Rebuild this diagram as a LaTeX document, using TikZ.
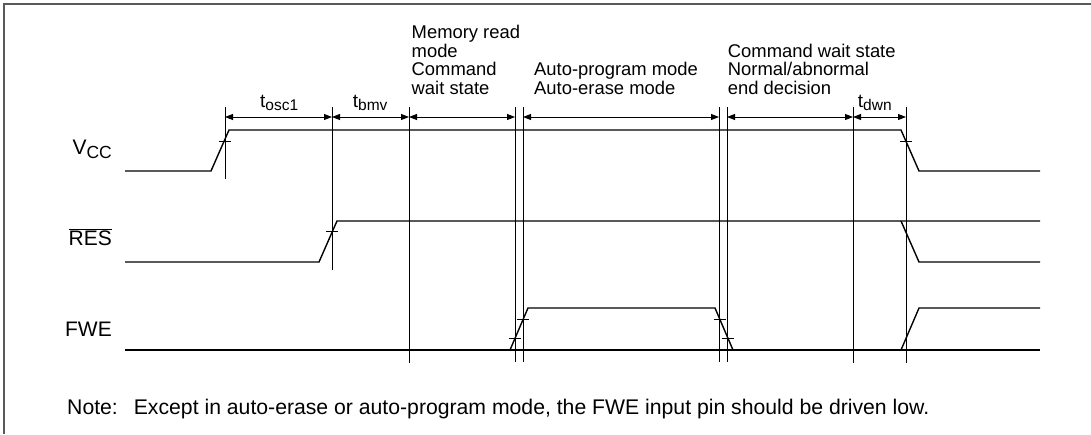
\documentclass[tikz,border=0pt]{standalone}
\usepackage{fontspec}
\setmainfont{Liberation Sans}
\usetikzlibrary{arrows.meta}
\begin{document}
\begin{tikzpicture}[x=1pt,y=-1pt,
  wave/.style={line width=1.4pt, line join=miter},
  vline/.style={line width=0.9pt},
  tick/.style={line width=0.9pt},
  dim/.style={line width=0.9pt, {Triangle[length=8pt,width=6pt]}-{Triangle[length=8pt,width=6pt]}},
  lbl/.style={inner sep=0pt, anchor=base west, font=\fontsize{18.4}{19}\selectfont},
  notelbl/.style={inner sep=0pt, anchor=base west, font=\fontsize{21.2}{22}\selectfont},
  tlbl/.style={inner sep=0pt, anchor=base west, font=\fontsize{19}{20}\selectfont},
  sig/.style={inner sep=0pt, anchor=base east, font=\fontsize{21}{22}\selectfont},
  frame/.style={line width=1.6pt, draw=black!65}]
\useasboundingbox (0,0) rectangle (1091,434);
% frame
\draw[frame] (4,434) -- (4,4) -- (1091,4);

% vertical reference lines
\foreach \n/\x/\b in {v1/225/179, v2/332/270, v3/409/363, v4/515/362, v5/523/362, v6/719/362, v7/727/362, v8/853/363, v9/906/363}{
  \coordinate (\n t) at (\x,107);
  \coordinate (\n b) at (\x,\b);
  \coordinate (\n d) at (\x,117);
  \draw[vline] (\n t) -- (\n b);
}

% dimension arrows
\draw[dim] (v1d) -- (v2d);
\draw[dim] (v2d) -- (v3d);
\draw[dim] (v3d) -- (v4d);
\draw[dim] (v5d) -- (v6d);
\draw[dim] (v7d) -- (v8d);
\draw[dim] (v8d) -- (v9d);

% waveforms
\draw[wave] (125,171) -- (211,171) -- (229,130) -- (901,130) -- (919,171) -- (1040,171);
\draw[wave] (125,262) -- (319,262) -- (337,221) -- (1040,221);
\draw[wave] (901,221) -- (919,262) -- (1040,262);
\draw[wave] (125,350) -- (1040,350);
\draw[wave] (510,350) -- (528,308) -- (715,308) -- (733,350);
\draw[wave] (901,350) -- (919,308) -- (1040,308);

% crossing ticks
\foreach \x/\y in {225/141, 905.8/141, 332/231, 515.2/338, 523.3/319, 719.7/319, 727.8/338}{
  \draw[tick] (\x-6,\y) -- (\x+6,\y);
}

% timing labels
\node[tlbl] (tosc) at (260,107) {t\raisebox{-3pt}{\fontsize{15.5}{16}\selectfont osc1}};
\node[tlbl] (tbmv) at (352.7,107) {t\raisebox{-3pt}{\fontsize{15.5}{16}\selectfont bmv}};
\node[tlbl] (tdwn) at (857.7,107) {t\raisebox{-3pt}{\fontsize{15.5}{16}\selectfont dwn}};

% state labels
\node[lbl] (mr1) at (411.5,38.5) {Memory read};
\node[lbl] (mr2) at (411.5,57.2) {mode};
\node[lbl] (mr3) at (411.5,75.9) {Command};
\node[lbl] (mr4) at (411.5,94.6) {wait state};
\node[lbl] (ap1) at (534,75.9) {Auto-program mode};
\node[lbl] (ap2) at (534,94.6) {Auto-erase mode};
\node[lbl] (cw1) at (727.7,57.2) {Command wait state};
\node[lbl] (cw2) at (727.7,75.9) {Normal/abnormal};
\node[lbl] (cw3) at (727.7,94.6) {end decision};

% signal names
\node[sig] (vcc) at (112,154) {V\raisebox{-4pt}{\fontsize{17.5}{18}\selectfont CC}};
\node[sig] (res) at (112,245) {$\overline{\mbox{RES}}$};
\node[sig] (fwe) at (112,336) {FWE};

% note
\node[notelbl] (note) at (67,414) {Note:\hspace{16pt}Except in auto-erase or auto-program mode, the FWE input pin should be driven low.};
\end{tikzpicture}
\end{document}
